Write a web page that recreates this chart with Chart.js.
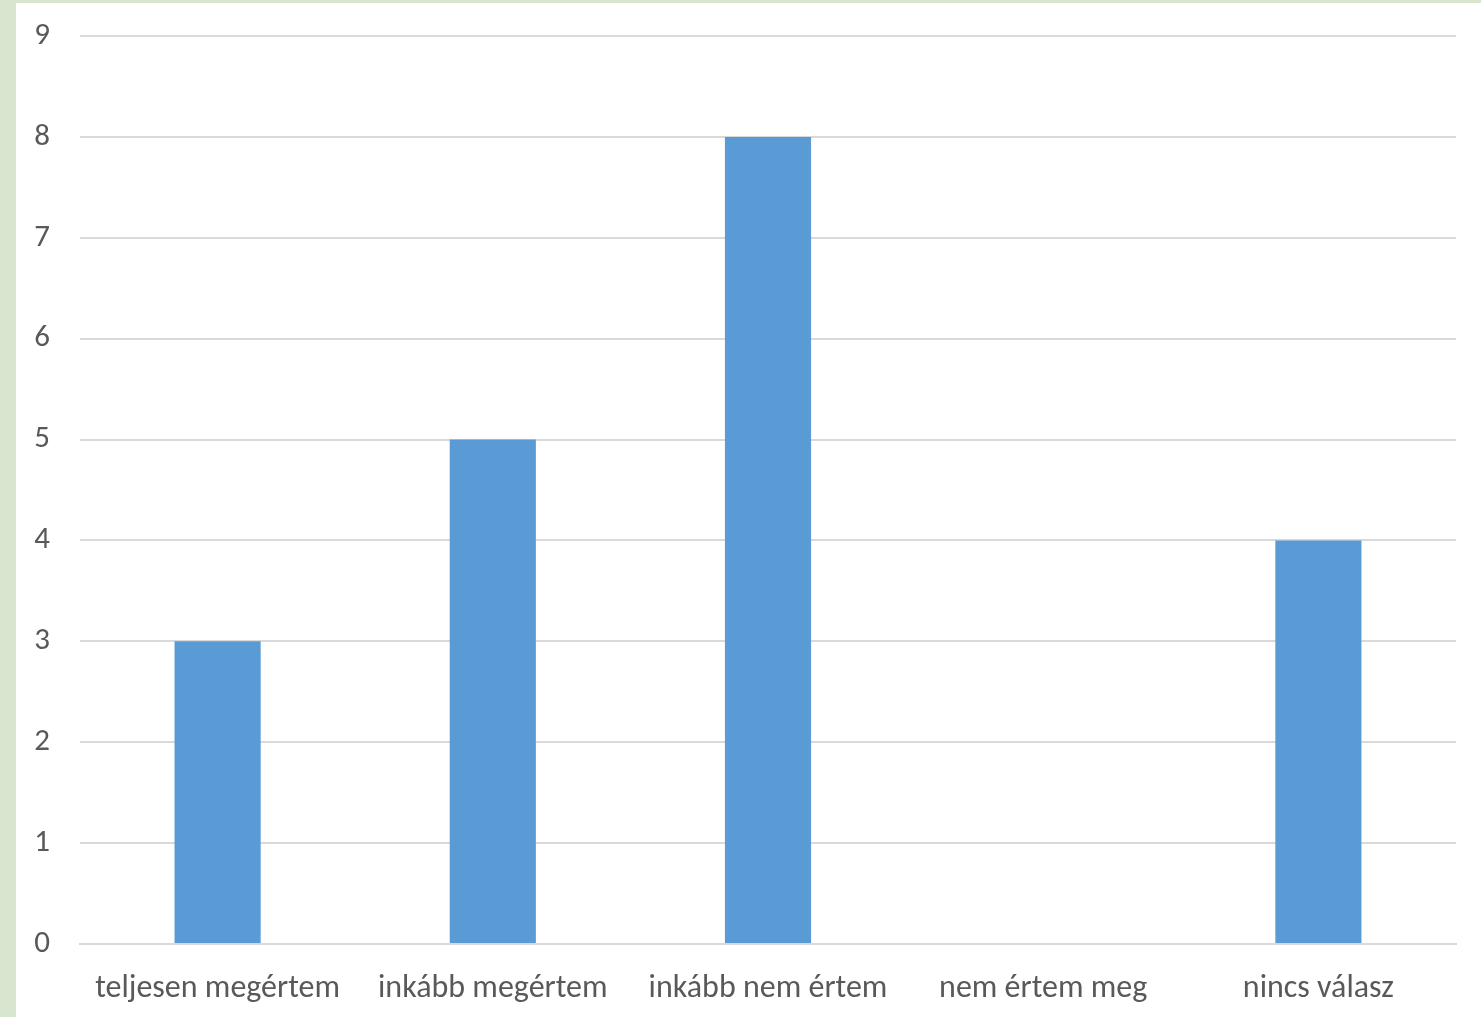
<!DOCTYPE html>
<html>
<head>
<meta charset="utf-8">
<script src="https://cdn.jsdelivr.net/npm/chart.js@4"></script>
<style>
  html, body { margin: 0; padding: 0; background: #d9e6cf; }
  #wrap { position: absolute; left: 16px; top: 3px; width: 1465px; height: 1014px; background: #ffffff; }
</style>
</head>
<body>
<div id="wrap"><canvas id="chart"></canvas></div>
<script>
// Answers and counts
const categories = ['teljesen megértem', 'inkább megértem', 'inkább nem értem', 'nem értem meg', 'nincs válasz'];
const counts = [3, 5, 8, 0, 4];
const yTicks = [0, 1, 2, 3, 4, 5, 6, 7, 8, 9];

const textColor = '#595959';
const fontFamily = 'Carlito, Calibri, "Open Sans", sans-serif';

const ctx = document.getElementById('chart').getContext('2d');
new Chart(ctx, {
    type: 'bar',
    data: {
        labels: categories,
        datasets: [{
            data: counts,
            backgroundColor: '#5b9bd5',
            borderWidth: 0,
            categoryPercentage: 1,
            barPercentage: 0.313
        }]
    },
    options: {
        responsive: true,
        maintainAspectRatio: false,
        animation: false,
        layout: { padding: { top: 33, right: 25, left: 0, bottom: 0 } },
        plugins: {
            legend: { display: false },
            tooltip: { enabled: false }
        },
        scales: {
            x: {
                grid: { display: false, drawTicks: false },
                border: { color: '#d9d9d9', width: 2 },
                ticks: { color: textColor, font: { family: fontFamily, size: 32 }, padding: 26, maxRotation: 0 },
                afterFit: (scale) => { scale.height = 73; scale.paddingLeft = 0; scale.paddingRight = 0; }
            },
            y: {
                min: 0,
                max: 9,
                afterBuildTicks: (scale) => { scale.ticks = yTicks.map(v => ({ value: v })); },
                grid: { color: '#d9d9d9', lineWidth: 2, drawTicks: false },
                border: { display: false },
                ticks: { color: textColor, font: { family: fontFamily, size: 31 }, padding: 30 },
                afterFit: (scale) => { scale.width = 64; scale.paddingTop = 0; scale.paddingBottom = 0; }
            }
        }
    }
});
</script>
</body>
</html>
